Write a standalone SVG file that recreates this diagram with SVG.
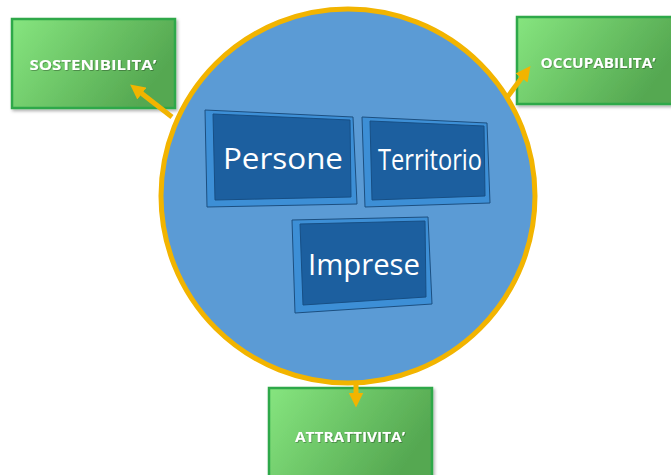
<svg xmlns="http://www.w3.org/2000/svg" width="671" height="475" viewBox="0 0 671 475">
  <defs>
    <linearGradient id="greenFill" x1="0" y1="0" x2="1" y2="0.4">
      <stop offset="0" stop-color="#86e57f"/>
      <stop offset="1" stop-color="#55a851"/>
    </linearGradient>
    <filter id="soft" x="-10%" y="-10%" width="130%" height="130%">
      <feDropShadow dx="1.5" dy="2" stdDeviation="1.5" flood-color="#000" flood-opacity="0.3"/>
    </filter>
    <filter id="txtShadow" x="-10%" y="-30%" width="120%" height="160%">
      <feDropShadow dx="0.8" dy="0.8" stdDeviation="0.6" flood-color="#000" flood-opacity="0.35"/>
    </filter>
    <marker id="head" viewBox="0 0 10 10" refX="5" refY="5" markerWidth="3" markerHeight="3" orient="auto-start-reverse" markerUnits="strokeWidth">
      <path d="M0,0 L10,5 L0,10 Z" fill="#f2b400"/>
    </marker>
  </defs>
  <style>
    .green { fill: url(#greenFill); stroke: #2fa84a; stroke-width: 2.5; filter: url(#soft); }
    .glabel { font-family: "Open Sans", "Liberation Sans", sans-serif; font-weight: bold; font-size: 15px; fill: #ffffff; text-anchor: middle; filter: url(#txtShadow); }
    .bevel { fill: #3d8fd6; stroke: #1c4f80; stroke-width: 1; }
    .face { fill: #1c5f9f; stroke: #174f85; stroke-width: 1; }
    .blabel { font-family: "Open Sans", "DejaVu Sans", sans-serif; font-size: 30px; fill: #ffffff; text-anchor: middle; }
    .conn { stroke: #f2b400; stroke-width: 5; fill: none; marker-end: url(#head); }
  </style>

  <rect width="671" height="475" fill="#ffffff"/>

  <!-- central circle -->
  <g id="hub">
    <circle cx="348" cy="196" r="187" fill="#5b9bd5" stroke="#f2b400" stroke-width="5"/>
  </g>

  <!-- outcome boxes -->
  <g id="sostenibilita">
    <rect class="green" x="12" y="19" width="163" height="89"/>
    <text class="glabel" x="93" y="70" textLength="127" lengthAdjust="spacingAndGlyphs">SOSTENIBILITA’</text>
  </g>
  <g id="occupabilita">
    <rect class="green" x="517" y="17" width="160" height="87"/>
    <text class="glabel" x="598" y="68" textLength="115" lengthAdjust="spacingAndGlyphs">OCCUPABILITA’</text>
  </g>
  <g id="attrattivita">
    <rect class="green" x="269" y="388" width="163" height="95"/>
    <text class="glabel" x="350" y="442" textLength="110" lengthAdjust="spacingAndGlyphs">ATTRATTIVITA’</text>
  </g>

  <!-- connectors -->
  <g id="connectors">
    <line class="conn" x1="172" y1="117" x2="136" y2="89"/>
    <line class="conn" x1="506" y1="99" x2="526" y2="72"/>
    <line class="conn" x1="356" y1="384" x2="356" y2="400"/>
  </g>

  <!-- bevelled blue tiles -->
  <g id="persone">
    <polygon class="bevel" points="205,110 353,117 357,204 207,207"/>
    <polygon class="face" points="213,114 350,120 351,197 215,200"/>
    <text class="blabel" x="283" y="169" textLength="120" lengthAdjust="spacingAndGlyphs">Persone</text>
  </g>
  <g id="territorio">
    <polygon class="bevel" points="362,117 487,123 490,203 365,207"/>
    <polygon class="face" points="370,121 484,126 485,196 372,200"/>
    <text class="blabel" x="430" y="170" font-size="27" textLength="104" lengthAdjust="spacingAndGlyphs">Territorio</text>
  </g>
  <g id="imprese">
    <polygon class="bevel" points="292,220 428,217 432,304 295,313"/>
    <polygon class="face" points="300,224 425,221 426,297 303,305"/>
    <text class="blabel" x="364" y="275" textLength="112" lengthAdjust="spacingAndGlyphs">Imprese</text>
  </g>
</svg>
